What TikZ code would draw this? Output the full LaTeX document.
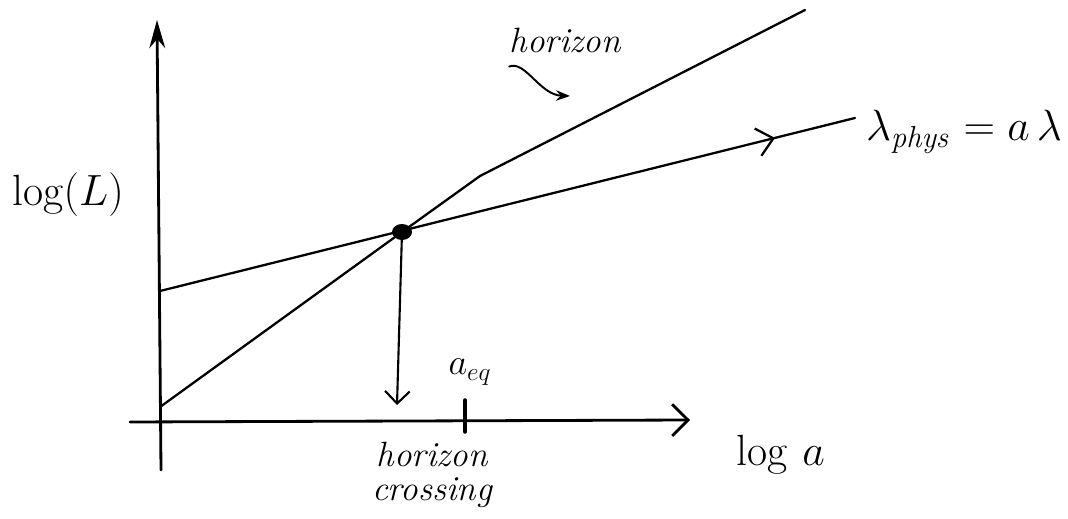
\documentclass[tikz,border=0pt]{standalone}
\usepackage{amsmath}
\usetikzlibrary{arrows.meta,decorations.markings,calc}

\begin{document}
\begin{tikzpicture}[x=0.02cm,y=-0.02cm,>=Stealth,line cap=round,
	hand/.style={font=\fontsize{20}{23}\selectfont\itshape},
	barb/.style={-{Straight Barb[length=9pt,width=18pt,line width=1.6pt]}}]
	\useasboundingbox (0,0) rectangle (1068,519);
	
	% ---- 坐标轴 ----
	\coordinate (O) at (160,422);
	\coordinate (Ytop) at (157,20);
	\coordinate (Ybot) at (161,470);
	\coordinate (Xl) at (130,422);
	\coordinate (Xr) at (690,420);
	\draw[line width=1.6pt,-{Stealth[length=16pt,width=9pt]}] (Ybot) -- (Ytop);
	\draw[line width=1.6pt,barb] (Xl) -- (Xr);
	
	% ---- 交点 ----
	\coordinate (D) at (402,232);
	
	% ---- 视界线（过交点，再折一下）----
	\coordinate (H0) at (160,407);
	\coordinate (Hk) at (480,176);
	\coordinate (H1) at (805,10);
	\draw[line width=1.3pt] (H0) -- (D) -- (Hk) -- (H1);
	
	% ---- 物理波长 lambda_phys = a lambda ----
	\coordinate (L0) at (160,291);
	\coordinate (L1) at (855,118);
	\draw[line width=1.3pt,
	postaction={decorate},
	decoration={markings,
		mark=at position 0.885 with {\arrow{Straight Barb[length=9pt,width=16pt,line width=1.3pt]}}}]
	(L0) -- (L1);
	
	\fill (D) ellipse (10 and 8);
	
	% ---- 向下的箭头 ----
	\coordinate (Dd) at (397,405);
	\draw[line width=1.2pt,-{Straight Barb[length=7pt,width=14pt,line width=1.2pt]}] (D) -- (Dd);
	
	% ---- a_eq 刻度 ----
	\coordinate (T0) at (465,400);
	\coordinate (T1) at (465,432);
	\draw[line width=2pt] (T0) -- (T1);
	
	% ---- 标注 ----
	\node[hand] (hor) at (565,40) {horizon};
	\coordinate (hp) at (570,96);
	\draw[line width=1.1pt,->] (hor.south west) ++(6,8) .. controls (525,60) and (540,95) .. (hp);
	\node[font=\fontsize{26}{30}\selectfont,anchor=west] (lam) at (860,132) {$\lambda_{\mathit{phys}} = a\,\lambda$};
	\node[font=\fontsize{26}{30}\selectfont] (logL) at (68,195) {$\log(L)$};
	\node[font=\fontsize{20}{24}\selectfont] (aeq) at (470,372) {$a_{eq}$};
	\node[hand,align=center] (cross) at (432,475) {horizon\\[-4pt]crossing};
	\node[font=\fontsize{36}{40}\selectfont,anchor=west] (loga) at (730,455) {$\log\,a$};
	
\end{tikzpicture}
\end{document}
